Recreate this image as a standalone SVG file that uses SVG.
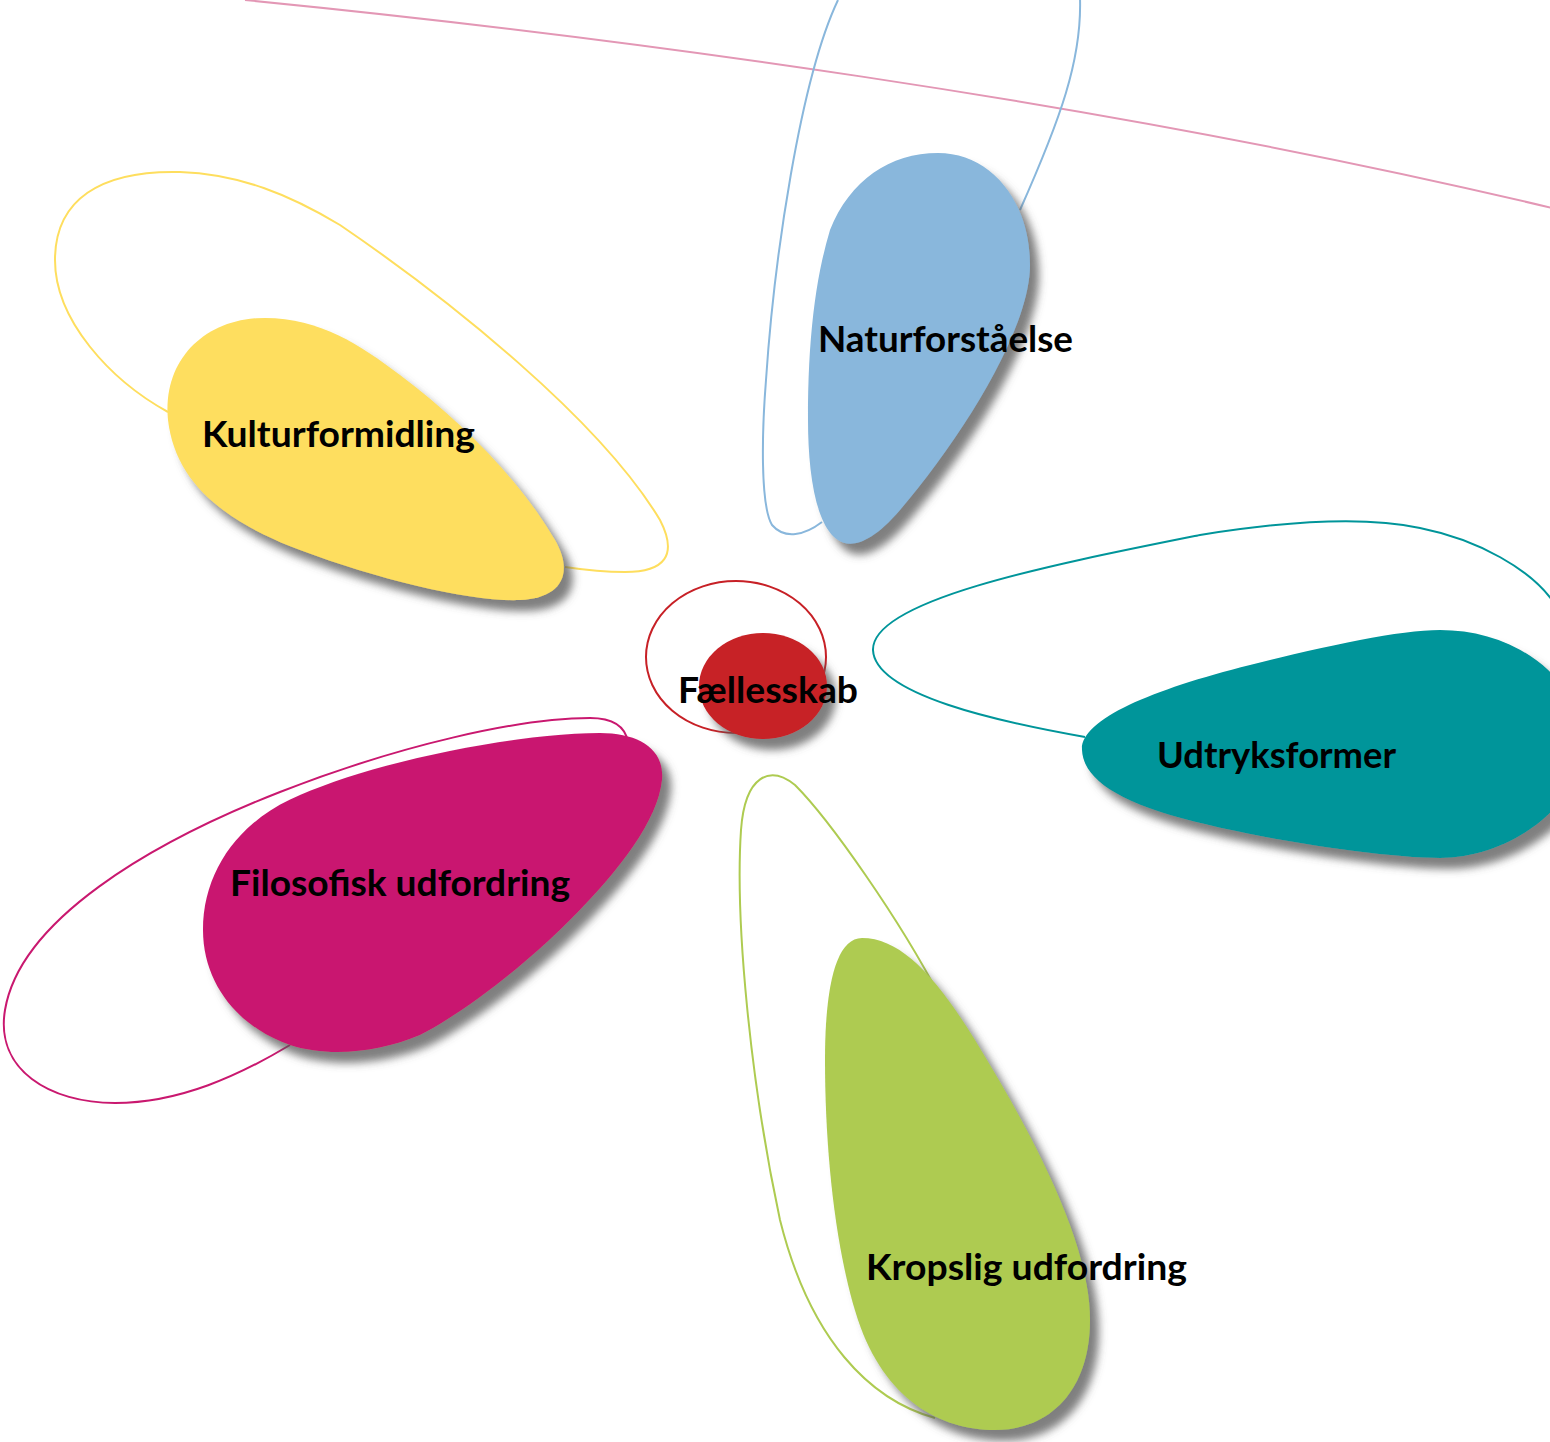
<svg xmlns="http://www.w3.org/2000/svg" width="1550" height="1442" viewBox="0 0 1550 1442">
<defs>
<filter id="sh" x="-20%" y="-20%" width="140%" height="140%">
<feDropShadow dx="9" dy="11" stdDeviation="4" flood-color="#555" flood-opacity="0.75"/>
</filter>
</defs>
<style>
.lbl{font-family:Lato,"Open Sans","Liberation Sans",sans-serif;font-weight:bold;font-size:36px;fill:#000}
.ol{fill:none;stroke-width:2}
.petal{filter:url(#sh)}
</style>
<rect width="1550" height="1442" fill="#fff"/>
<g id="connectors">
<path class="ol" stroke="#e397b5" d="M 245,0 C 600,35 1100,100 1552,208"/>
</g>
<g id="naturforstaaelse">
<path class="ol" stroke="#89b7dc" d="M 822,522 C 805,535 785,540 772,525 C 760,505 762,430 766,380 C 774,260 800,80 838,0 M 1080,-2 C 1082,60 1060,120 1020,210"/>
<path class="petal" fill="#89b7dc" d="M 938,153 C 990,153 1030,200 1030,265 C 1030,330 960,440 900,510 C 870,545 850,548 838,540 C 815,525 808,470 808,420 C 808,340 815,280 830,230 C 850,180 890,153 938,153 Z"/>
<text class="lbl" x="818" y="352" textLength="255" lengthAdjust="spacingAndGlyphs">Naturforståelse</text>
</g>
<g id="kulturformidling">
<path class="ol" stroke="#fede5e" d="M 168,412 C 110,380 55,320 55,260 C 55,200 100,170 180,172 C 240,174 290,195 340,225 C 450,300 600,420 660,520 C 678,555 665,572 625,572 C 605,572 585,570 565,567"/>
<path class="petal" fill="#fede5e" d="M 265,318 C 320,318 360,345 400,375 C 460,420 520,480 555,540 C 575,575 560,598 520,600 C 470,602 380,580 300,550 C 220,520 175,480 168,420 C 162,360 205,318 265,318 Z"/>
<text class="lbl" x="202" y="447" textLength="273" lengthAdjust="spacingAndGlyphs">Kulturformidling</text>
</g>
<g id="udtryksformer">
<path class="ol" stroke="#00959a" d="M 1085,737 C 1000,722 875,695 873,650 C 872,600 1050,565 1200,535 C 1280,522 1360,515 1420,528 C 1480,540 1530,570 1552,600"/>
<path class="petal" fill="#00959a" d="M 1082,750 C 1080,720 1150,690 1250,665 C 1330,645 1400,630 1440,630 C 1500,630 1560,660 1580,720 C 1600,790 1520,858 1440,858 C 1380,858 1250,838 1170,815 C 1110,797 1083,775 1082,750 Z"/>
<text class="lbl" x="1157" y="768" textLength="239" lengthAdjust="spacingAndGlyphs">Udtryksformer</text>
</g>
<g id="filosofisk-udfordring">
<path class="ol" stroke="#c9186f" d="M 628,742 C 625,725 610,718 590,718 C 520,718 400,745 280,792 C 150,843 20,920 5,1010 C -5,1070 50,1103 115,1103 C 180,1103 240,1075 290,1045"/>
<path class="petal" fill="#c9186f" d="M 600,733 C 640,733 665,750 662,780 C 658,820 620,870 570,920 C 510,980 450,1020 420,1035 C 380,1052 330,1058 290,1045 C 240,1028 203,985 203,930 C 203,870 240,820 300,795 C 380,760 520,733 600,733 Z"/>
<text class="lbl" x="230" y="896" textLength="340" lengthAdjust="spacingAndGlyphs">Filosofisk udfordring</text>
</g>
<g id="kropslig-udfordring">
<path class="ol" stroke="#aecb51" d="M 940,997 C 900,920 830,820 795,785 C 770,765 745,775 741,830 C 735,920 750,1080 780,1220 C 810,1340 870,1400 935,1418"/>
<path class="petal" fill="#aecb51" d="M 862,938 C 900,938 935,975 975,1040 C 1030,1130 1090,1240 1090,1320 C 1090,1390 1050,1430 995,1430 C 940,1430 885,1400 858,1320 C 835,1250 825,1150 825,1060 C 825,990 835,938 862,938 Z"/>
<text class="lbl" x="866" y="1280" textLength="321" lengthAdjust="spacingAndGlyphs">Kropslig udfordring</text>
</g>
<g id="faellesskab">
<ellipse class="ol" stroke="#c72026" cx="736" cy="657" rx="90" ry="76"/>
<ellipse class="petal" fill="#c72026" cx="763" cy="686" rx="64" ry="53"/>
<text class="lbl" x="678" y="703" textLength="180" lengthAdjust="spacingAndGlyphs">Fællesskab</text>
</g>
</svg>
